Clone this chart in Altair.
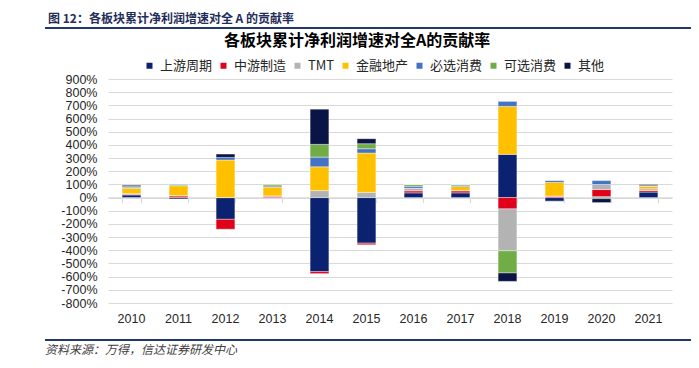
import altair as alt
import pandas as pd

years = ['2010', '2011', '2012', '2013', '2014', '2015', '2016', '2017', '2018', '2019', '2020', '2021']
cats = ['上游周期', '中游制造', 'TMT', '金融地产', '必选消费', '可选消费', '其他']
colors = ['#0A2270', '#E0001A', '#B3B3B3', '#FFC000', '#4472C4', '#70AD47', '#0B1545']

upstream = [20, -10, -165, 0, -562, -346, 36, 36, 328, -28, 8, 42]
midstream = [5, 12, -76, 10, -15, -12, 15, 15, -86, 10, 53, 12]
tmt = [5, 3, 0, 3, 53, 40, 20, 3, -318, 2, 38, 12]
finance = [40, 75, 285, 67, 181, 298, 0, 30, 364, 104, 0, 20]
staples = [8, 5, 20, 8, 73, 33, 15, 10, 38, 15, 30, 0]
discretionary = [7, 8, -4, 10, 97, 38, 13, 6, -168, -3, -8, 5]
others = [8, 0, 25, 2, 267, 38, 0, 0, -64, 0, -30, 8]

series = [upstream, midstream, tmt, finance, staples, discretionary, others]
y_ticks = list(range(-800, 901, 100))

header_text = '图 12：各板块累计净利润增速对全 A 的贡献率'
title_text = '各板块累计净利润增速对全A的贡献率'
source_text = '资料来源：万得，信达证券研发中心'

rows = []
for i, (c, vals) in enumerate(zip(cats, series)):
    for y, v in zip(years, vals):
        rows.append({'year': y, 'cat': c, 'value': v, 'idx': i})
df = pd.DataFrame(rows)

W, H = 564, 224
zero_px = 900 / 1700 * H

xscale = alt.Scale(paddingInner=0.6, paddingOuter=0.3)
yscale = alt.Scale(domain=[-800, 900], nice=False, zero=False)

bars = alt.Chart(df).mark_bar(stroke='white', strokeWidth=0.4).encode(
    x=alt.X('year:N', sort=years, scale=xscale,
            axis=alt.Axis(title=None, domain=False, ticks=False, grid=False, labelAngle=0,
                          labelPadding=9, labelFont='Liberation Sans', labelFontSize=12.5,
                          labelColor='#262626')),
    y=alt.Y('value:Q', stack='zero', scale=yscale,
            axis=alt.Axis(title=None, values=y_ticks, labelExpr="datum.value + '%'",
                          domain=False, ticks=False, grid=True, gridColor='#D9D9D9',
                          gridWidth=1, labelFont='Liberation Sans', labelFontSize=12.5,
                          labelColor='#262626', labelPadding=11)),
    color=alt.Color('cat:N', scale=alt.Scale(domain=cats, range=colors),
                    legend=alt.Legend(orient='none', legendX=35, legendY=-20,
                                      direction='horizontal', title=None, symbolType='square',
                                      symbolSize=36, symbolStrokeWidth=0,
                                      labelFont='Noto Sans CJK SC', labelFontSize=13,
                                      labelColor='#262626', columnPadding=4, labelOffset=4)),
    order=alt.Order('idx:Q'),
)

zero_axis = alt.Chart(df).mark_bar(opacity=0).encode(
    x=alt.X('year:N', sort=years, scale=xscale,
            axis=alt.Axis(title=None, orient='bottom', offset=-(H - zero_px), labels=False,
                          ticks=True, tickBand='extent', tickSize=5, tickColor='#D9D9D9',
                          tickWidth=1.2, domain=True, domainColor='#D9D9D9', domainWidth=1.5,
                          grid=False)),
    y=alt.Y('value:Q', stack='zero', scale=yscale, axis=None),
)


def text_layer(s, x, y, **kw):
    return alt.Chart(pd.DataFrame({'t': [s]})).mark_text(**kw).encode(
        text='t:N', x=alt.value(x), y=alt.value(y))


def hline(y, x1, x2):
    return alt.Chart(pd.DataFrame({'a': [0]})).mark_rule(color='#1F3864', strokeWidth=2).encode(
        x=alt.value(x1), x2=alt.value(x2), y=alt.value(y))


header = text_layer(header_text, -60, -60, align='left', baseline='middle',
                    font='Noto Sans CJK SC', fontSize=12, fontWeight='bold', color='#1F2D5A')
title = text_layer(title_text, 249, -38, align='center', baseline='middle',
                   font='Noto Sans CJK SC', fontSize=16, fontWeight='bold', color='#000000')
source = text_layer(source_text, -63, 271, align='left', baseline='middle',
                    font='Noto Sans CJK SC', fontSize=12, fontStyle='italic', color='#404040')

chart = alt.layer(
    bars, zero_axis, header, title, source,
    hline(-51, -63, 600), hline(261, -63, 600),
).resolve_axis(x='independent', y='independent').properties(
    width=W, height=H,
    padding={'left': 100, 'top': 71, 'right': 19, 'bottom': 57},
    autosize=alt.AutoSizeParams(type='none'),
).configure_view(stroke=None)

chart.save('out.html', embed_options={'renderer': 'svg', 'actions': False})
